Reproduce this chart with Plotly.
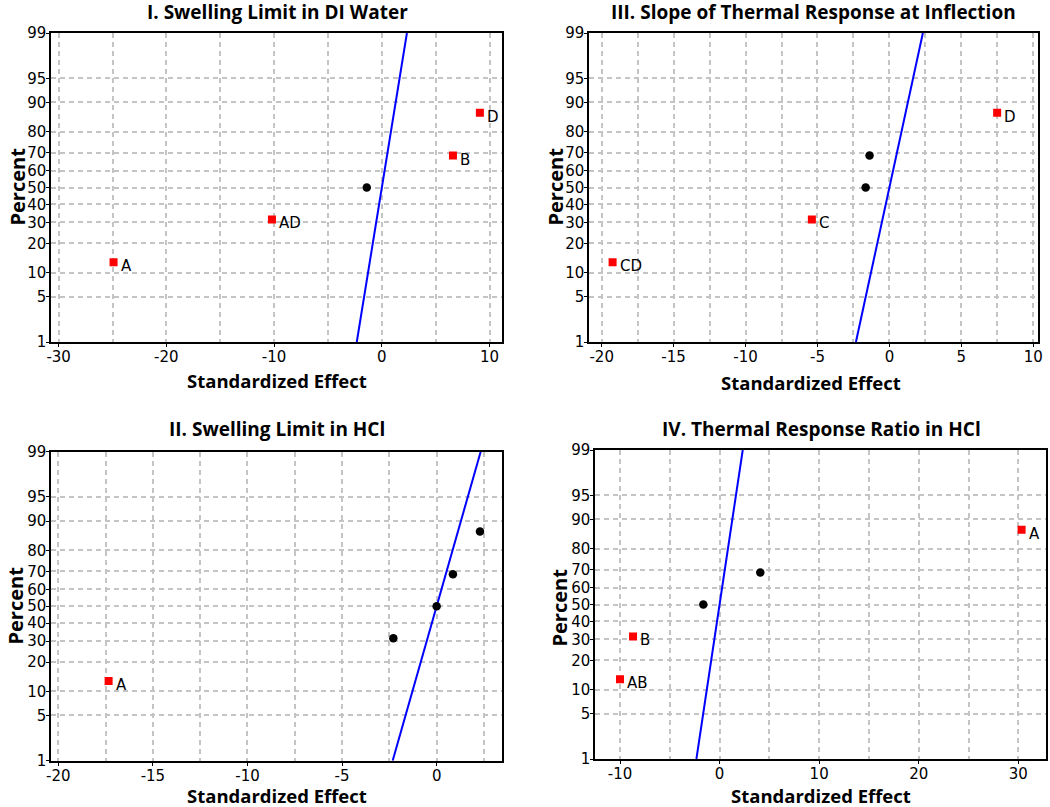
import math
import plotly.graph_objects as go

# ---------------- data ----------------
percent = [13, 31.5, 50, 68.5, 87]

p1_effects = [-24.9, -10.2, -1.4, 6.6, 9.1]
p1_labels = ["A", "AD", "", "B", "D"]

p2_effects = [-17.34, -2.29, 0.0, 0.86, 2.29]
p2_labels = ["A", "", "", "", ""]

p3_effects = [-19.24, -5.39, -1.65, -1.38, 7.49]
p3_labels = ["CD", "C", "", "", "D"]

p4_effects = [-10.0, -8.69, -1.63, 4.09, 30.33]
p4_labels = ["AB", "B", "", "", "A"]

titles = ["I. Swelling Limit in DI Water", "II. Swelling Limit in HCl",
          "III. Slope of Thermal Response at Inflection", "IV. Thermal Response Ratio in HCl"]

y_tick_pct = [1, 5, 10, 20, 30, 40, 50, 60, 70, 80, 90, 95, 99]
p1_xticks = [-30, -20, -10, 0, 10]
p2_xticks = [-20, -15, -10, -5, 0]
p3_xticks = [-20, -15, -10, -5, 0, 5, 10]
p4_xticks = [-10, 0, 10, 20, 30]
line_pct = [1, 99]


def norm_ppf(p):
    # Acklam's inverse normal CDF approximation
    a = [-3.969683028665376e+01, 2.209460984245205e+02, -2.759285104469687e+02,
         1.383577518672690e+02, -3.066479806614716e+01, 2.506628277459239e+00]
    b = [-5.447609879822406e+01, 1.615858368580409e+02, -1.556989798598866e+02,
         6.680131188771972e+01, -1.328068155288572e+01]
    c = [-7.784894002430293e-03, -3.223964580411365e-01, -2.400758277161838e+00,
         -2.549732539343734e+00, 4.374664141464968e+00, 2.938163982698783e+00]
    d = [7.784695709041462e-03, 3.224671290700398e-01, 2.445134137142996e+00,
         3.754408661907416e+00]
    plow = 0.02425
    if p < plow:
        q = math.sqrt(-2 * math.log(p))
        return (((((c[0]*q+c[1])*q+c[2])*q+c[3])*q+c[4])*q+c[5]) / \
               ((((d[0]*q+d[1])*q+d[2])*q+d[3])*q+1)
    if p > 1 - plow:
        q = math.sqrt(-2 * math.log(1 - p))
        return -(((((c[0]*q+c[1])*q+c[2])*q+c[3])*q+c[4])*q+c[5]) / \
                ((((d[0]*q+d[1])*q+d[2])*q+d[3])*q+1)
    q = p - 0.5
    r = q * q
    return (((((a[0]*r+a[1])*r+a[2])*r+a[3])*r+a[4])*r+a[5])*q / \
           (((((b[0]*r+b[1])*r+b[2])*r+b[3])*r+b[4])*r+1)


def z(pct):
    return norm_ppf(pct / 100.0)


W, H = 1050, 807


def px(xp):
    return xp / W


def py(yp):
    return 1 - yp / H


panels = [
    dict(eff=p1_effects, lab=p1_labels, xt_vals=p1_xticks, xd=(51.3, 502.3), yd=(33, 342),
         xr=(-30.68, 11.18), mdt=5, t=(277, 12), xt=(277, 380), yt=(1, 187), title=titles[0]),
    dict(eff=p3_effects, lab=p3_labels, xt_vals=p3_xticks, xd=(589.3, 1038.3), yd=(33, 342),
         xr=(-20.86, 10.35), mdt=2.5, t=(813, 12), xt=(811, 383), yt=(539, 187), title=titles[2]),
    dict(eff=p2_effects, lab=p2_labels, xt_vals=p2_xticks, xd=(51.3, 502.3), yd=(451.7, 760.7),
         xr=(-20.37, 3.47), mdt=2.5, t=(277, 429), xt=(277, 795), yt=(-1, 606), title=titles[1]),
    dict(eff=p4_effects, lab=p4_labels, xt_vals=p4_xticks, xd=(595.3, 1045.7), yd=(450, 759),
         xr=(-12.48, 32.75), mdt=5, t=(821, 429), xt=(821, 795), yt=(543, 608), title=titles[3]),
]

fig = go.Figure()
annotations = []
tick_font = dict(family="DejaVu Sans", size=15, color="black")
bold_font = "Open Sans"
grid_col = "#c4c4c4"
grid_dash = "5px,4px"

ytv = [z(p) for p in y_tick_pct]
ytt = [str(p) for p in y_tick_pct]
zr = (z(1), z(99))
yz = [z(p) for p in percent]

layout_axes = {}
for i, pn in enumerate(panels, start=1):
    xa = "x" if i == 1 else f"x{i}"
    ya = "y" if i == 1 else f"y{i}"
    xkey = "xaxis" if i == 1 else f"xaxis{i}"
    ykey = "yaxis" if i == 1 else f"yaxis{i}"

    # fitted normal line
    fig.add_trace(go.Scatter(
        x=[z(p) for p in line_pct], y=[z(p) for p in line_pct], mode="lines",
        line=dict(color="#0000ff", width=2), xaxis=xa, yaxis=ya, showlegend=False,
        hoverinfo="skip"))

    sig_x = [e for e, l in zip(pn["eff"], pn["lab"]) if l]
    sig_y = [zz for zz, l in zip(yz, pn["lab"]) if l]
    ns_x = [e for e, l in zip(pn["eff"], pn["lab"]) if not l]
    ns_y = [zz for zz, l in zip(yz, pn["lab"]) if not l]

    fig.add_trace(go.Scatter(
        x=ns_x, y=ns_y, mode="markers",
        marker=dict(symbol="circle", size=8.5, color="black"),
        xaxis=xa, yaxis=ya, showlegend=False))
    fig.add_trace(go.Scatter(
        x=sig_x, y=sig_y, mode="markers",
        marker=dict(symbol="square", size=8, color="#ff0000"),
        xaxis=xa, yaxis=ya, showlegend=False))

    for ex, ey, lab in zip(sig_x, sig_y, [l for l in pn["lab"] if l]):
        annotations.append(dict(x=ex, y=ey, xref=xa, yref=ya, text=lab, showarrow=False,
                                xanchor="left", yanchor="middle", xshift=5, yshift=-4,
                                font=tick_font))

    layout_axes[xkey] = dict(
        domain=[px(pn["xd"][0]), px(pn["xd"][1])], range=list(pn["xr"]), anchor=ya,
        tickmode="array", tickvals=pn["xt_vals"], ticktext=[str(v) for v in pn["xt_vals"]],
        showgrid=True, gridcolor=grid_col, griddash=grid_dash,
        gridwidth=1.5, zeroline=False, showline=True, linecolor="black", linewidth=2,
        mirror=True, ticks="outside", ticklen=3, tickcolor="black", tickwidth=1,
        tickfont=tick_font, automargin=False, ticklabelstandoff=-3,
        minor=dict(dtick=pn["mdt"], tick0=0, showgrid=True, gridcolor=grid_col,
                   griddash=grid_dash, gridwidth=1.5, ticks=""),
    )
    layout_axes[ykey] = dict(
        domain=[py(pn["yd"][1]), py(pn["yd"][0])], range=list(zr), anchor=xa,
        tickmode="array", tickvals=ytv, ticktext=ytt, showgrid=True, gridcolor=grid_col,
        griddash=grid_dash, gridwidth=1.5, zeroline=False, showline=True, linecolor="black",
        linewidth=2, mirror=True, ticks="outside", ticklen=3, tickcolor="black",
        tickwidth=1, tickfont=tick_font, ticklabelstandoff=-3, automargin=False,
    )

    annotations.append(dict(x=px(pn["t"][0]), y=py(pn["t"][1]), xref="paper", yref="paper",
                            text="<b>" + pn["title"] + "</b>", showarrow=False,
                            xanchor="center", yanchor="middle",
                            font=dict(family=bold_font, size=19, color="black")))
    annotations.append(dict(x=px(pn["xt"][0]), y=py(pn["xt"][1]), xref="paper", yref="paper",
                            text="<b>Standardized Effect</b>", showarrow=False,
                            xanchor="center", yanchor="middle", borderpad=0,
                            font=dict(family=bold_font, size=18.5, color="black")))
    annotations.append(dict(x=px(pn["yt"][0]), y=py(pn["yt"][1]), xref="paper", yref="paper",
                            text="<b>Percent</b>", showarrow=False, textangle=-90,
                            xanchor="left", yanchor="middle",
                            font=dict(family=bold_font, size=20, color="black")))

fig.update_layout(
    width=W, height=H, margin=dict(l=0, r=0, t=0, b=0, pad=0), autosize=False,
    paper_bgcolor="white", plot_bgcolor="white", showlegend=False,
    annotations=annotations, **layout_axes)

fig.write_html("out.html", config={"displayModeBar": False},
               post_script="document.body.style.margin='0';")
